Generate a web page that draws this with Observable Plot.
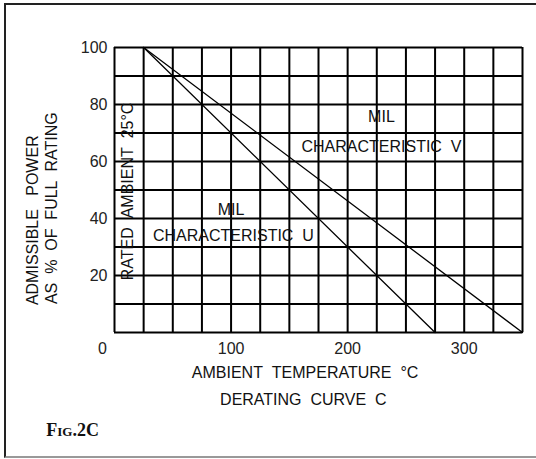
<!DOCTYPE html>
<html>
<head>
<meta charset="utf-8">
<script src="https://cdn.jsdelivr.net/npm/d3@7"></script>
<script src="https://cdn.jsdelivr.net/npm/@observablehq/plot@0.6"></script>
<style>
  html, body { margin: 0; padding: 0; background: #fff; }
  #wrap { position: relative; width: 536px; height: 459px; overflow: hidden; }
  #border { position: absolute; left: 4px; top: 3px; width: 560px; height: 451px;
            border-left: 2px solid #222; border-top: 2px solid #222; border-bottom: 2px solid #999; }
  #chart { position: absolute; left: 0; top: 0; }
</style>
</head>
<body>
<div id="wrap"><div id="border"></div><div id="chart"></div></div>
<script>
// Grid / tick values
const xGrid = d3.range(0, 351, 25);
const yGrid = d3.range(0, 101, 10);
const xTickLabels = [100, 200, 300];
const yTickLabels = [20, 40, 60, 80, 100];
const xZeroLabel = [0];

// Derating curves (temperature °C, % of full rating)
const curveU = [[25, 100], [275, 0]];
const curveV = [[25, 100], [350, 0]];

// Annotations (text, x, y in data units)
const notes = [
  {text: "MIL", x: 100, y: 43},
  {text: "CHARACTERISTIC\u00a0\u00a0U", x: 102, y: 34},
  {text: "MIL", x: 229, y: 75.5},
  {text: "CHARACTERISTIC\u00a0\u00a0V", x: 229, y: 65}
];
const rotatedNotes = [
  {text: "RATED\u00a0\u00a0AMBIENT\u00a0\u00a025°C", x: 11.8, y: 49.5},
  {text: "ADMISSIBLE\u00a0\u00a0\u00a0POWER", x: -70.3, y: 39.4},
  {text: "AS\u00a0\u00a0%\u00a0\u00a0OF\u00a0\u00a0FULL\u00a0\u00a0RATING", x: -53.8, y: 43.6}
];
const xTitles = [
  {text: "AMBIENT\u00a0\u00a0TEMPERATURE\u00a0\u00a0°C", x: 163.5, y: -14.3},
  {text: "DERATING\u00a0\u00a0CURVE\u00a0\u00a0C", x: 162, y: -23.6}
];
const figLabel = [{text: "Fig.2C", x: -58.5, y: -34.4}];

const chart = Plot.plot({
  width: 536,
  height: 459,
  marginLeft: 114,
  marginRight: 14,
  marginTop: 47,
  marginBottom: 127,
  x: {domain: [0, 350]},
  y: {domain: [0, 100]},
  style: {fontFamily: "'Liberation Sans', Arial, sans-serif", fontSize: "16px", color: "#111", background: "transparent", overflow: "visible"},
  marks: [
    Plot.ruleX(xGrid, {stroke: "#000", strokeWidth: 2}),
    Plot.ruleY(yGrid, {stroke: "#000", strokeWidth: 2}),
    Plot.line(curveU, {x: d => d[0], y: d => d[1], stroke: "#000", strokeWidth: 1.3}),
    Plot.line(curveV, {x: d => d[0], y: d => d[1], stroke: "#000", strokeWidth: 1.3}),
    Plot.axisX(xTickLabels, {tickSize: 0, tickPadding: 10, fontSize: 16, label: null, fill: "#222"}),
    Plot.text(xZeroLabel, {x: d => d, y: 0, text: d => String(d), dx: -12, dy: 16, fontSize: 16, fill: "#222"}),
    Plot.axisY(yTickLabels, {tickSize: 0, tickPadding: 7, fontSize: 16, label: null, fill: "#222"}),
    Plot.text(notes, {x: "x", y: "y", text: "text", fontSize: 16, fill: "#111"}),
    Plot.text(rotatedNotes, {x: "x", y: "y", text: "text", rotate: -90, fontSize: 16, fill: "#111"}),
    Plot.text(xTitles, {x: "x", y: "y", text: "text", fontSize: 16, fill: "#111"}),
    Plot.text(figLabel, {x: "x", y: "y", text: "text", textAnchor: "start", fontSize: 18, fontWeight: "bold",
      fontFamily: "'Liberation Serif', 'Times New Roman', serif", fill: "#111", fontVariant: "small-caps"})
  ]
});
document.getElementById("chart").appendChild(chart);
</script>
</body>
</html>
